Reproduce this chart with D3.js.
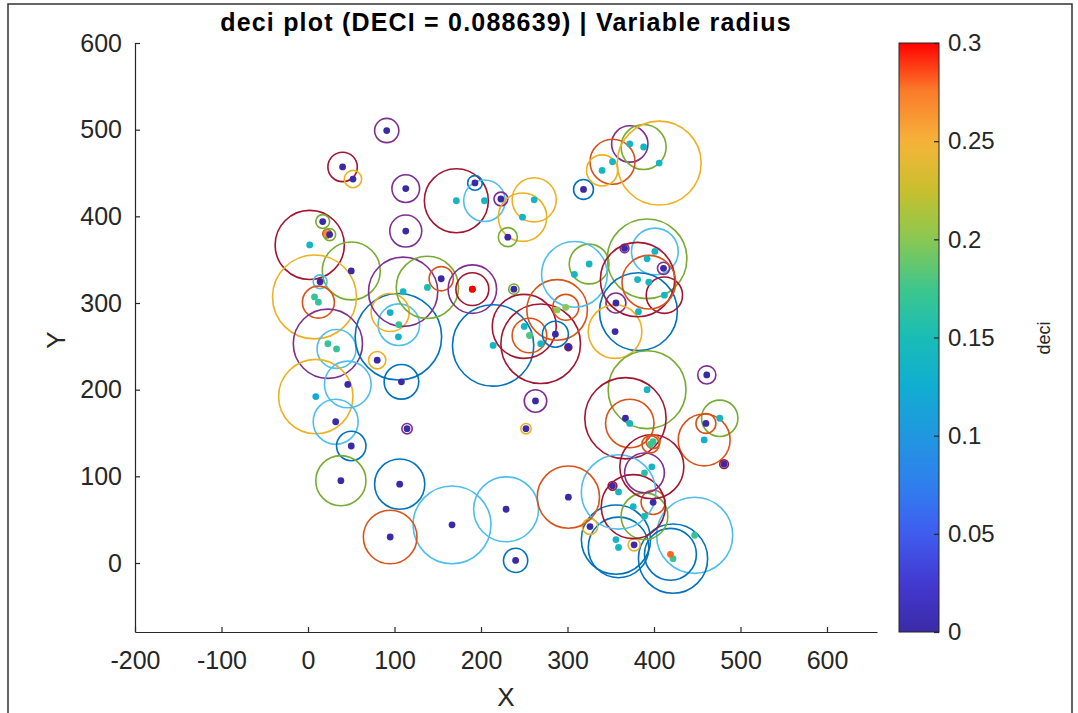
<!DOCTYPE html>
<html>
<head>
<meta charset="utf-8">
<script src="https://cdn.jsdelivr.net/npm/d3@7"></script>
<style>
  body { margin: 0; background: #fff; }
  svg { display: block; font-family: "Liberation Sans", Arial, sans-serif; }
</style>
</head>
<body>
<div id="chart"></div>
<script>
// point data: centre, circle radius (data units) and deci value
var ptX = [91, 40, 52, 113, 113, 2, 17, 22, 25, 50, 14, 7.5, 12, 23, 33, 9, 46, 32, 50, 80,
  108, 114.5, 104.5, 105, 95, 110, 138, 154, 190, 190, 238, 214, 250, 269, 256, 288, 298, 286, 301, 263,
  252, 171.5, 193, 204, 223, 261.5, 248, 231, 318.5, 372, 388, 352, 340, 406, 392, 401, 366, 411, 325, 308,
  356, 382, 355, 381, 412, 394, 392, 461, 367, 372, 476, 460, 458, 481, 447, 422, 419, 356, 359, 377,
  389, 399, 376, 359, 352, 389, 397.5, 396, 399, 326, 166.5, 229, 240, 301, 106, 38, 95];
var ptY = [499, 457, 443, 432, 383, 367, 394, 380, 379, 337, 324.5, 307, 301, 253, 247, 192, 206, 163, 135, 234,
  209, 155, 261, 275, 289, 313, 318, 328, 316, 316, 316, 251, 273, 253, 262.5, 292, 295, 264, 249, 187,
  155, 418, 438.5, 418, 420, 419, 399, 376, 431, 483.5, 480, 463, 453, 461.5, 351, 359.5, 363, 340, 345, 333,
  300, 290, 267, 327, 309, 324, 200, 217, 167, 161, 167, 161, 142, 114, 32, 5, 10, 27, 18, 21,
  54, 70, 65, 82, 89, 104, 111, 137, 140, 42, 44, 62, 3, 76, 91, 95, 30];
var ptR = [14, 17, 10, 16, 18.5, 40, 8, 5, 7, 33.5, 8, 48.5, 18.5, 40, 22.5, 43, 27, 26, 17, 10,
  20, 6, 50, 24, 22, 40, 36, 14, 19, 28, 6, 47, 37, 46, 20, 35, 15, 15, 4, 13,
  6, 37, 8.5, 24, 8, 25.5, 28, 11, 11.5, 21, 26, 26, 18, 48.5, 46, 27, 5, 7, 23, 38,
  11.5, 45, 31, 43, 21, 31, 45, 10.5, 47, 28, 21, 11.5, 30, 5, 44, 40, 30, 40, 35, 7,
  27, 14, 37, 43, 5, 23, 37, 10, 8, 9, 45, 37.5, 14, 36, 29, 29, 31];
var ptDeci = [0, 0, 0, 0, 0, 0.14, 0, 0.27, 0, 0, 0, 0.17, 0.17, 0.17, 0.17, 0.12, 0, 0, 0, 0,
  0, 0, 0.13, 0.17, 0.13, 0.14, 0.15, 0, 0.3, 0.3, 0, 0.14, 0.14, 0.14, 0.18, 0.2, 0.2, 0, 0, 0,
  0, 0.14, 0, 0.14, 0, 0.14, 0.14, 0, 0, 0.14, 0.14, 0.14, 0.14, 0.14, 0.14, 0.14, 0, 0, 0.14, 0.14,
  0, 0.14, 0, 0.14, 0.14, 0.14, 0.14, 0, 0, 0.14, 0.14, 0, 0.13, 0, 0.17, 0.17, 0.28, 0.14, 0.14, 0,
  0.15, 0, 0.14, 0.14, 0, 0.16, 0.14, 0.17, 0.17, 0, 0, 0, 0, 0, 0, 0, 0];
// which line series each circle was drawn as (MATLAB colour order index)
var ptSeries = [3, 6, 2, 3, 3, 6, 4, 1, 4, 4, 5, 2, 1, 3, 5, 2, 5, 5, 0, 2,
  0, 3, 0, 5, 2, 3, 4, 1, 6, 3, 4, 0, 6, 6, 1, 1, 1, 0, 6, 3,
  2, 6, 0, 5, 3, 2, 2, 4, 0, 3, 4, 1, 2, 2, 4, 5, 3, 3, 4, 5,
  3, 0, 2, 6, 6, 1, 4, 3, 6, 1, 4, 1, 1, 6, 5, 0, 0, 0, 0, 2,
  4, 1, 6, 5, 6, 3, 6, 1, 1, 2, 5, 5, 0, 1, 0, 4, 1];

var xTicks = [-200, -100, 0, 100, 200, 300, 400, 500, 600];
var yTicks = [0, 100, 200, 300, 400, 500, 600];
var cbTicks = [0, 0.05, 0.1, 0.15, 0.2, 0.25, 0.3];
var titleText = "deci plot (DECI = 0.088639) | Variable radius";

var lineColors = ["#0072BD", "#D95319", "#EDB120", "#7E2F8E", "#77AC30", "#4DBEEE", "#A2142F"];
var cmapPos = [0, 0.08, 0.17, 0.25, 0.33, 0.42, 0.5, 0.58, 0.67, 0.75, 0.83, 0.92, 1];
var cmapCol = ["#3b2aa6", "#4338d0", "#3f5ef0", "#2f7fee", "#2196e0", "#10aed0", "#19bcb6",
  "#3cc68e", "#8cc850", "#c8bf2c", "#f5b53a", "#fb7a2a", "#ff0000"];

var svgWidth = 1078, svgHeight = 713;
var axisCol = "#262626";
var font = "'Liberation Sans', Arial, sans-serif";

var svg = d3.select("#chart").append("svg")
  .attr("width", svgWidth)
  .attr("height", svgHeight);

// figure frame
svg.append("path")
  .attr("d", "M8,713 V4 H1072 V713")
  .attr("fill", "none")
  .attr("stroke", "#333")
  .attr("stroke-width", 1.5);

// equal-aspect axes
var x = d3.scaleLinear().domain([-200, 600]).range([135, 827]);
var y = d3.scaleLinear().domain([0, 600]).range([563, 43]);
x.domain([-200, x.invert(877)]).range([135, 877]);
y.domain([y.invert(632), 600]).range([632, 43]);
var rpx = function(r) { return x(r) - x(0); };

var cmap = d3.scaleLinear().domain(cmapPos).range(cmapCol).interpolate(d3.interpolateRgb);
var deciScale = d3.scaleLinear().domain([0, 0.3]).range([0, 1]).clamp(true);
var cbY = d3.scaleLinear().domain([0, 0.3]).range([632, 43]);

var pts = ptX.map(function(v, i) {
  return { x: v, y: ptY[i], r: ptR[i], deci: ptDeci[i], s: ptSeries[i] };
});

svg.append("clipPath").attr("id", "clip")
  .append("rect").attr("x", 135).attr("y", 43).attr("width", 742).attr("height", 589);

var plotG = svg.append("g").attr("clip-path", "url(#clip)");

plotG.selectAll("circle.ring")
  .data(pts)
  .enter()
  .append("circle")
    .attr("class", "ring")
    .attr("cx", function(d) { return x(d.x); })
    .attr("cy", function(d) { return y(d.y); })
    .attr("r", function(d) { return rpx(d.r); })
    .attr("fill", "none")
    .attr("stroke", function(d) { return lineColors[d.s]; })
    .attr("stroke-width", 1.6);

plotG.selectAll("circle.dot")
  .data(pts)
  .enter()
  .append("circle")
    .attr("class", "dot")
    .attr("cx", function(d) { return x(d.x); })
    .attr("cy", function(d) { return y(d.y); })
    .attr("r", 3.4)
    .attr("fill", function(d) { return cmap(deciScale(d.deci)); });

// axes (plain hyphen minus like MATLAB)
var fmt = function(d) { return String(d); };
var xAxis = svg.append("g")
  .attr("transform", "translate(0,632)")
  .call(d3.axisBottom(x).tickValues(xTicks).tickFormat(fmt)
    .tickSizeInner(-5).tickSizeOuter(0).tickPadding(19));
var yAxis = svg.append("g")
  .attr("transform", "translate(135,0)")
  .call(d3.axisLeft(y).tickValues(yTicks).tickFormat(fmt)
    .tickSizeInner(-5).tickSizeOuter(0).tickPadding(13));

[xAxis, yAxis].forEach(function(g) {
  g.select(".domain").attr("stroke", axisCol).attr("stroke-width", 1.2);
  g.selectAll(".tick line").attr("stroke", axisCol).attr("stroke-width", 1.2);
  g.selectAll(".tick text")
    .attr("fill", axisCol)
    .style("font-size", "25px")
    .style("font-family", font);
});

// axis labels and title
svg.append("text")
  .attr("x", 506).attr("y", 706)
  .attr("text-anchor", "middle")
  .attr("fill", axisCol)
  .style("font-size", "26px")
  .text("X");
svg.append("text")
  .attr("transform", "translate(65,340) rotate(-90)")
  .attr("text-anchor", "middle")
  .attr("fill", axisCol)
  .style("font-size", "26px")
  .text("Y");
svg.append("text")
  .attr("x", 506).attr("y", 31)
  .attr("text-anchor", "middle")
  .attr("fill", "#000")
  .style("font-size", "25px")
  .style("letter-spacing", "1.2px")
  .style("font-weight", "bold")
  .text(titleText);

// colorbar
var defs = svg.append("defs");
var grad = defs.append("linearGradient")
  .attr("id", "cbGrad")
  .attr("x1", 0).attr("y1", 1).attr("x2", 0).attr("y2", 0);
d3.range(0, 1.0001, 0.02).forEach(function(t) {
  grad.append("stop").attr("offset", t).attr("stop-color", cmap(t));
});
svg.append("rect")
  .attr("x", 899).attr("y", 43)
  .attr("width", 40).attr("height", 589)
  .attr("fill", "url(#cbGrad)")
  .attr("stroke", axisCol)
  .attr("stroke-width", 1);

var cbAxis = svg.append("g")
  .attr("transform", "translate(939,0)")
  .call(d3.axisRight(cbY).tickValues(cbTicks).tickSizeInner(-5).tickSizeOuter(0).tickPadding(9)
    .tickFormat(function(d) { return String(+d.toFixed(2)); }));
cbAxis.select(".domain").remove();
cbAxis.selectAll(".tick line").attr("stroke", axisCol).attr("stroke-width", 1.2);
cbAxis.selectAll(".tick text")
  .attr("fill", axisCol)
  .style("font-size", "24px")
  .style("font-family", font);

svg.append("text")
  .attr("transform", "translate(1050,338) rotate(-90)")
  .attr("text-anchor", "middle")
  .attr("fill", axisCol)
  .style("font-size", "18px")
  .text("deci");
</script>
</body>
</html>
